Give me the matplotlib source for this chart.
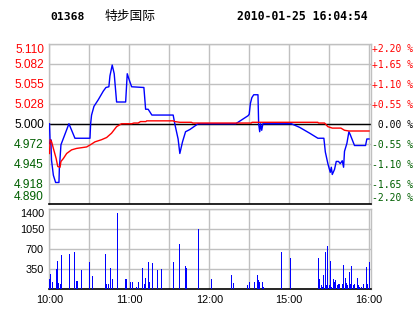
import matplotlib.pyplot as plt

# ---- data ----
code = '01368'
name = '特步国际'
stamp = '2010-01-25 16:04:54'
prev_close = 5.000

pct_levels = [-2.20, -1.65, -1.10, -0.55, 0.0, 0.55, 1.10, 1.65, 2.20]
price_labels = ['4.890', '4.918', '4.945', '4.972', '5.000', '5.028', '5.055', '5.082', '5.110']
pct_labels = ['-2.20 %', '-1.65 %', '-1.10 %', '-0.55 %', ' 0.00 %', '+0.55 %', '+1.10 %', '+1.65 %', '+2.20 %']
time_ticks = [0, 30, 60, 90, 120, 150, 180, 210, 240]
time_labels = ['10:00', '', '11:00', '', '12:00', '', '15:00', '', '16:00']
vol_ticks = [350, 700, 1050, 1400]
vol_labels = ['350', '700', '1050', '1400']

# minutes since 10:00, lunch break collapsed (12:30 == 14:30 == 150)
price_t = [0, 0.5, 1, 1.5, 2.9, 4.6, 7.1, 7.4, 8.6, 14.6, 19.1, 30.4, 30.9, 31.6, 33.4,
           36.6, 40.4, 42.4, 44.6, 45.4, 47.1, 48.6, 50.4, 57.2, 58.4, 59.6, 61.7, 70.9,
           72.2, 74.1, 76.9, 92.9, 94.1, 96.6, 97.9, 99.9, 102.2, 105.4, 111.6, 139.9,
           149.1, 150, 150.9, 152, 153.4, 156.6, 157.1, 157.9, 158.6, 159.4, 160.3, 181.7,
           187.9, 195.4, 201.6, 206.1, 207.2, 209.1, 210.9, 211.7, 212.4, 214.1, 215.4,
           217.1, 218.4, 219.9, 220.9, 221.6, 223.4, 224.9, 225.9, 229.1, 237.4, 238.4, 240]
price_v = [5.000, 4.972, 4.978, 4.950, 4.929, 4.919, 4.919, 4.938, 4.971, 5.000, 4.980, 4.980,
           5.000, 5.012, 5.024, 5.033, 5.045, 5.050, 5.051, 5.066, 5.081, 5.069, 5.030, 5.030,
           5.069, 5.062, 5.051, 5.050, 5.020, 5.020, 5.012, 5.012, 5.000, 4.979, 4.959, 4.975,
           4.989, 4.992, 5.000, 5.000, 5.011, 5.013, 5.028, 5.036, 5.040, 5.040, 5.000, 4.989,
           5.000, 4.991, 5.000, 5.000, 4.995, 4.987, 4.980, 4.980, 4.961, 4.945, 4.933, 4.940,
           4.930, 4.937, 4.948, 4.948, 4.945, 4.949, 4.940, 4.962, 4.973, 4.989, 4.985, 4.970,
           4.970, 4.979, 4.979]

avg_t = [0, 0.5, 1.6, 3.5, 5, 6.2, 7.9, 8.6, 10.4, 12.9, 16.6, 20.4, 27.9, 31.6, 34.1, 39.1,
         42.9, 46.6, 50.4, 54.1, 61.7, 63.4, 66.6, 68.4, 72.4, 73.0, 92.9, 94.1, 97.9, 106.6,
         107.6, 151.6, 152.1, 201.6, 202, 206.6, 209.1, 212.4, 218.9, 221.6, 224.9, 240]
avg_v = [4.959, 4.978, 4.975, 4.962, 4.952, 4.941, 4.940, 4.948, 4.952, 4.959, 4.964, 4.966,
         4.968, 4.972, 4.975, 4.978, 4.981, 4.987, 4.996, 5.000, 5.000, 5.001, 5.001, 5.003,
         5.003, 5.004, 5.004, 5.003, 5.002, 5.002, 5.001, 5.001, 5.002, 5.002, 5.001, 5.001,
         4.996, 4.994, 4.994, 4.991, 4.990, 4.990]

vol_t = [0, 1, 2, 5, 6, 7, 8, 9, 15, 19, 20, 21, 24, 30, 32, 42, 43, 44, 46, 47, 51, 57, 58,
         61, 62, 65, 67, 70, 71, 72, 74, 75, 77, 81, 84, 93, 98, 102, 103, 112, 122, 137, 138,
         149, 150, 154, 156, 157, 158, 160, 161, 174, 181, 202, 203, 204, 205, 206, 207, 208,
         209, 210, 211, 212, 213, 214, 215, 216, 217, 218, 220, 221, 222, 223, 224, 225, 226,
         227, 228, 229, 231, 232, 233, 234, 236, 238, 239, 240]
vol_v = [160, 248, 112, 337, 478, 100, 83, 585, 602, 638, 124, 124, 319, 461, 213, 602, 71,
         71, 354, 160, 1329, 160, 160, 106, 106, 35, 106, 354, 71, 177, 461, 106, 443, 319,
         337, 461, 780, 390, 354, 1046, 160, 230, 89, 53, 106, 106, 230, 142, 106, 106, 35,
         638, 532, 532, 160, 53, 35, 230, 638, 53, 744, 53, 478, 35, 160, 106, 142, 53, 71,
         71, 71, 408, 177, 89, 53, 284, 71, 390, 53, 71, 177, 53, 35, 35, 71, 372, 71, 461]

# ---- styling ----
W, H = 414, 314
GRID = '#c0c0c0'
RED = '#ff0000'
GREEN = '#005f00'
SANS = 'Liberation Sans'
MONO = 'DejaVu Sans Mono'


def lvl_color(v):
    if v > 0:
        return RED
    if v < 0:
        return GREEN
    return 'black'


fig = plt.figure(figsize=(W / 100, H / 100), dpi=100)
fig.patch.set_facecolor('white')

left, right = 49.5, 371.0
ax = fig.add_axes([left / W, 1 - 203.5 / H, (right - left) / W, (203.5 - 44) / H])
axv = fig.add_axes([left / W, 1 - 288.5 / H, (right - left) / W, (288.5 - 209) / H])

price_ticks = [prev_close * (1 + p / 100) for p in pct_levels]

for a in (ax, axv):
    a.set_xlim(0, 241.5)
    a.set_xticks(time_ticks)
    a.grid(True, color=GRID, linewidth=1.0)
    a.set_axisbelow(True)
    for s in ('left', 'right', 'top'):
        a.spines[s].set_color(GRID)
        a.spines[s].set_linewidth(1.0)
    a.spines['bottom'].set_color('black')
    a.spines['bottom'].set_linewidth(1.2)
    a.tick_params(length=0)

# price panel
ax.set_ylim(price_ticks[0], price_ticks[-1])
ax.set_yticks(price_ticks)
ax.set_yticklabels(price_labels, fontfamily=SANS, fontsize=8.6)
ax.tick_params(axis='y', pad=4)
ax.set_xticklabels([])
for i, tk in enumerate(ax.yaxis.get_major_ticks()):
    tk.label1.set_color(lvl_color(pct_levels[i]))
ax.yaxis.get_major_ticks()[0].label1.set_verticalalignment('bottom')
ax.yaxis.get_major_ticks()[-1].label1.set_verticalalignment('top')

ax.axhline(prev_close, color='black', linewidth=1.0, zorder=2)
ax.plot(price_t, price_v, color='#0000ff', linewidth=1.0, zorder=3)
ax.plot(avg_t, avg_v, color=RED, linewidth=1.0, zorder=4)

ax2 = ax.twinx()
ax2.set_ylim(pct_levels[0], pct_levels[-1])
ax2.set_yticks(pct_levels)
ax2.set_yticklabels(pct_labels, fontfamily=MONO, fontsize=7.0)
ax2.tick_params(axis='y', length=0, pad=0.5)
for s in ax2.spines.values():
    s.set_visible(False)
for i, tk in enumerate(ax2.yaxis.get_major_ticks()):
    tk.label2.set_color(lvl_color(pct_levels[i]))
ax2.yaxis.get_major_ticks()[0].label2.set_verticalalignment('bottom')
ax2.yaxis.get_major_ticks()[-1].label2.set_verticalalignment('top')

# volume panel
axv.set_ylim(0, 1400)
axv.set_yticks(vol_ticks)
axv.set_yticklabels(vol_labels, fontfamily=SANS, fontsize=7.8)
axv.yaxis.get_major_ticks()[-1].label1.set_verticalalignment('top')
axv.set_xticklabels(time_labels, fontfamily=SANS, fontsize=7.8)
axv.tick_params(axis='x', pad=5)
axv.tick_params(axis='y', pad=4)
axv.bar(vol_t, vol_v, width=0.75, color='#0000ff', linewidth=0, antialiased=False, zorder=3)

# header
fig.text(50 / W, 1 - 16.5 / H, code, fontfamily=MONO, fontweight='bold', fontsize=8.2,
         va='center', ha='left')
fig.text(105 / W, 1 - 16.5 / H, name, fontfamily=['Noto Sans CJK SC', 'DejaVu Sans'],
         fontsize=9.2, va='center', ha='left')
fig.text(237.5 / W, 1 - 16.5 / H, stamp, fontfamily=MONO, fontweight='bold', fontsize=8.3,
         va='center', ha='left')

fig.savefig('out.png', dpi=100)
